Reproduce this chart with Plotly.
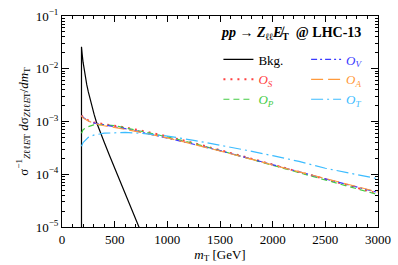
import plotly.graph_objects as go

# ---------------- data ----------------
bkg_mt = [185, 185, 192, 200, 209, 220, 235, 250, 262, 275, 290, 305, 325, 350, 375, 400,
          450, 500, 525, 575, 625, 675, 725, 760]
bkg_y = [1e-6, 2.6e-2, 1.86e-2, 1.33e-2, 9.9e-3, 7.2e-3, 5.0e-3, 3.63e-3, 2.85e-3, 2.24e-3,
         1.71e-3, 1.36e-3, 1.0e-3, 7.2e-4, 5.4e-4, 4.1e-4, 2.3e-4, 1.32e-4, 1.0e-4, 5.75e-5,
         3.3e-5, 1.86e-5, 1.07e-5, 7.2e-6]

sig_mt = [185, 200, 250, 300, 400, 500, 600, 750, 1000, 1250, 1500, 1750, 2000, 2250, 2500, 2750, 3000]
o_v = [1.3e-3, 1.2e-3, 1.02e-3, 9.4e-4, 8.6e-4, 8.0e-4, 7.3e-4, 6.3e-4, 4.9e-4, 3.7e-4, 2.8e-4,
       2.05e-4, 1.5e-4, 1.1e-4, 8.2e-5, 6.1e-5, 4.5e-5]
o_s = [1.3e-3, 1.2e-3, 1.05e-3, 9.6e-4, 8.9e-4, 8.4e-4, 7.7e-4, 6.7e-4, 5.2e-4, 3.9e-4, 2.9e-4,
       2.1e-4, 1.52e-4, 1.1e-4, 8.0e-5, 5.9e-5, 4.3e-5]
o_a = [1.29e-3, 1.17e-3, 1.02e-3, 9.3e-4, 8.3e-4, 7.8e-4, 7.1e-4, 6.2e-4, 4.9e-4, 3.7e-4, 2.8e-4,
       2.05e-4, 1.5e-4, 1.12e-4, 8.3e-5, 6.2e-5, 4.6e-5]
o_p = [6.0e-4, 7.0e-4, 8.0e-4, 8.6e-4, 8.7e-4, 8.3e-4, 7.6e-4, 6.6e-4, 5.1e-4, 3.85e-4, 2.85e-4,
       2.05e-4, 1.48e-4, 1.08e-4, 7.8e-5, 5.7e-5, 4.1e-5]
o_t = [3.4e-4, 4.0e-4, 5.0e-4, 5.5e-4, 6.0e-4, 6.2e-4, 6.2e-4, 6.0e-4, 5.3e-4, 4.4e-4, 3.6e-4,
       2.85e-4, 2.25e-4, 1.75e-4, 1.3e-4, 1.03e-4, 8.2e-5]

y_tickvals = [1e-5, 1e-4, 1e-3, 1e-2, 1e-1]
y_ticktext = ["10<sup>−5</sup>", "10<sup>−4</sup>", "10<sup>−3</sup>", "10<sup>−2</sup>", "10<sup>−1</sup>"]
x_tickvals = [0, 500, 1000, 1500, 2000, 2500, 3000]

# ---------------- styles ----------------
FONT = "Liberation Serif"
C_V = "#3a3aff"
C_S = "#ff4040"
C_A = "#ff9a3c"
C_P = "#44cc44"
C_T = "#3cbcff"


def lab(color, sub):
    return f'<span style="color:{color}"><i>O</i><sub><i>{sub}</i></sub></span>'


fig = go.Figure()
fig.add_trace(go.Scatter(x=bkg_mt, y=bkg_y, mode="lines", name="Bkg.",
                         line=dict(color="black", width=1.2), legend="legend"))
fig.add_trace(go.Scatter(x=sig_mt, y=o_s, mode="lines", name=lab(C_S, "S"),
                         line=dict(color=C_S, width=2, dash="2px,5px"), legend="legend"))
fig.add_trace(go.Scatter(x=sig_mt, y=o_p, mode="lines", name=lab(C_P, "P"),
                         line=dict(color=C_P, width=1.2, dash="6px,4px"), legend="legend"))
fig.add_trace(go.Scatter(x=sig_mt, y=o_v, mode="lines", name=lab(C_V, "V"),
                         line=dict(color=C_V, width=1.2, dash="6px,3px,2px,3px"), legend="legend2"))
fig.add_trace(go.Scatter(x=sig_mt, y=o_a, mode="lines", name=lab(C_A, "A"),
                         line=dict(color=C_A, width=1.2, dash="12px,5px"), legend="legend2"))
fig.add_trace(go.Scatter(x=sig_mt, y=o_t, mode="lines", name=lab(C_T, "T"),
                         line=dict(color=C_T, width=1.2, dash="12px,4px,2px,4px"), legend="legend2"))

axis_common = dict(showline=True, linecolor="black", linewidth=1, mirror="allticks",
                   ticks="inside", tickcolor="black", showgrid=False, zeroline=False,
                   ticklabeloverflow="allow",
                   tickfont=dict(family=FONT, size=13, color="black"))

fig.update_xaxes(range=[0, 3000], tickvals=x_tickvals, ticklen=6,
                 minor=dict(ticks="inside", ticklen=3, dtick=100, tickcolor="black", showgrid=False),
                 title=dict(text="<i>m</i><sub>T</sub> [GeV]", font=dict(family=FONT, size=13, color="black"),
                            standoff=2),
                 **axis_common)
fig.update_yaxes(type="log", range=[-5, -1], tickvals=y_tickvals, ticktext=y_ticktext, ticklen=7,
                 minor=dict(ticks="inside", ticklen=3, dtick="D1", tickcolor="black", showgrid=False),
                 title=dict(text="σ<sup>−1</sup><sub><i>Z</i>ℓℓ<i>E̸</i>T</sub> <i>d</i>σ<sub><i>Z</i>ℓℓ<i>E̸</i>T</sub>/<i>dm</i><sub>T</sub>",
                            font=dict(family=FONT, size=13, color="black"), standoff=4),
                 **axis_common)

legend_common = dict(bgcolor="rgba(0,0,0,0)", borderwidth=0, yanchor="top", xanchor="left",
                     font=dict(family=FONT, size=13, color="black"), tracegroupgap=0,
                     itemwidth=30)

fig.update_layout(
    width=398, height=265,
    margin=dict(l=62, r=16, t=7, b=38),
    plot_bgcolor="white", paper_bgcolor="white",
    showlegend=True,
    legend=dict(x=0.495, y=0.865, **legend_common),
    legend2=dict(x=0.7725, y=0.865, **legend_common),
    annotations=[dict(
        x=0.725, y=0.915, xref="paper", yref="paper", showarrow=False,
        xanchor="center", yanchor="middle",
        text="<b><i>pp</i> → <i>Z</i><sub>ℓℓ</sub><i>E̸</i><sub>T</sub>  @ LHC-13</b>",
        font=dict(family=FONT, size=14, color="black"))],
)

fig.write_html("out.html", config={"displayModeBar": False},
               post_script="document.body.style.margin='0';")
